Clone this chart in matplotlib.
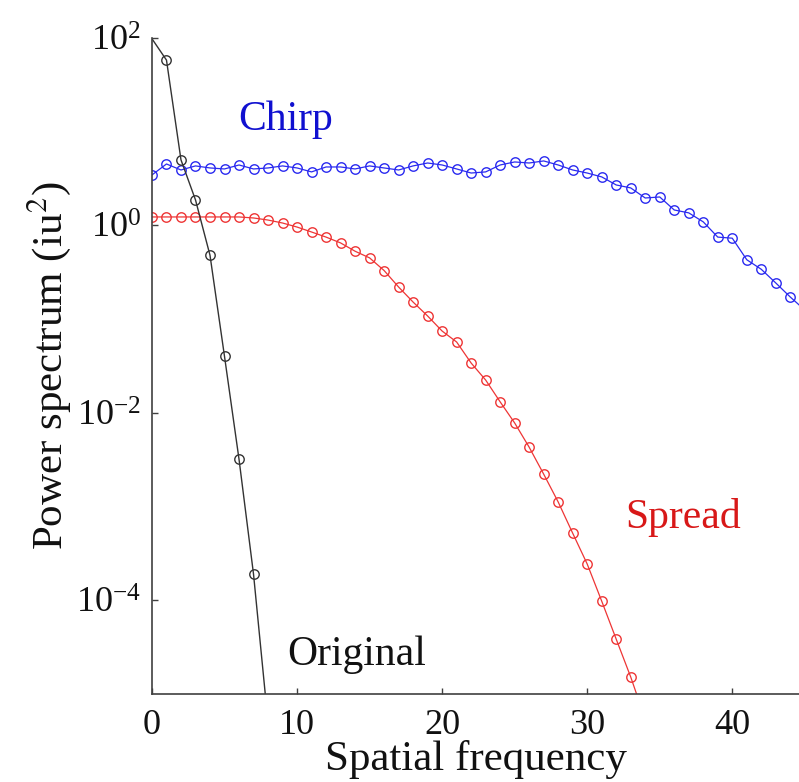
import numpy as np
import matplotlib
matplotlib.use("Agg")
import matplotlib.pyplot as plt

plt.rcParams['font.family'] = ['Liberation Serif', 'DejaVu Serif']
plt.rcParams['mathtext.fontset'] = 'stix'

# spectra
x_orig = [0, 1, 2, 3, 4, 5, 6, 7, 8]
p_orig = [98, 58, 5.0, 1.87, 0.48, 0.040, 3.2e-3, 1.9e-4, 5.0e-6]

x_chirp = list(range(46))
p_chirp = [3.45, 4.52, 3.90, 4.31, 4.10, 4.00, 4.41, 4.00, 4.10, 4.31,
           4.10, 3.72, 4.20, 4.20, 4.00, 4.31, 4.10, 3.90, 4.31, 4.63,
           4.41, 4.00, 3.62, 3.72, 4.41, 4.75, 4.63, 4.87, 4.41, 3.90,
           3.62, 3.29, 2.70, 2.51, 1.96, 2.01, 1.46, 1.36, 1.09, 0.75,
           0.73, 0.43, 0.34, 0.243, 0.172, 0.125]

x_spread = list(range(35))
p_spread = [1.23, 1.23, 1.23, 1.23, 1.23, 1.23, 1.23, 1.20, 1.14, 1.06,
            0.96, 0.85, 0.75, 0.65, 0.53, 0.45, 0.33, 0.22, 0.152, 0.108,
            0.0746, 0.057, 0.034, 0.0224, 0.0131, 7.8e-3, 4.3e-3, 2.22e-3, 1.12e-3, 5.2e-4,
            2.44e-4, 9.8e-5, 3.85e-5, 1.52e-5, 5.4e-6]

fig = plt.figure(figsize=(7.99, 7.82), dpi=100)
ax = fig.add_axes([0.1902, 0.1125, 0.8098, 0.839])

ms = 6.8
ax.plot(x_chirp, p_chirp, '-o', color='#2a2af0', lw=0.9, ms=ms, mfc='none', mew=1.0)
ax.plot(x_spread, p_spread, '-o', color='#ee3535', lw=0.9, ms=ms, mfc='none', mew=1.0)
ax.plot(x_orig, p_orig, '-o', color='#333333', lw=1.0, ms=ms, mfc='none', mew=1.0,
        markevery=slice(1, None))

ax.set_yscale('log')
ax.set_xlim(0, 44.6)
ax.set_ylim(1e-5, 1e2)
ax.set_yticks([1e-4, 1e-2, 1e0, 1e2])
ax.minorticks_off()
ax.set_xticks([0, 10, 20, 30, 40])

for s in ['top', 'right']:
    ax.spines[s].set_visible(False)
for s in ['left', 'bottom']:
    ax.spines[s].set_color('#404040')
    ax.spines[s].set_linewidth(1.2)

ax.tick_params(axis='both', direction='in', length=4, width=1, color='#404040',
               labelsize=26, labelcolor='#111111')
ax.tick_params(axis='x', pad=11)
ax.tick_params(axis='y', pad=8)

ax.set_xlabel('Spatial frequency', fontsize=31, color='#111111', labelpad=-2)
ax.set_ylabel('Power spectrum (iu$^2$)', fontsize=31, color='#111111', labelpad=2)

ax.text(9.2, 13.3, 'Chirp', color='#1010d0', fontsize=30, ha='center', va='center')
ax.text(36.6, 7.6e-4, 'Spread', color='#d81818', fontsize=30, ha='center', va='center')
ax.text(14.1, 2.6e-5, 'Original', color='#111111', fontsize=30, ha='center', va='center')

fig.savefig('out.png', dpi=100)
